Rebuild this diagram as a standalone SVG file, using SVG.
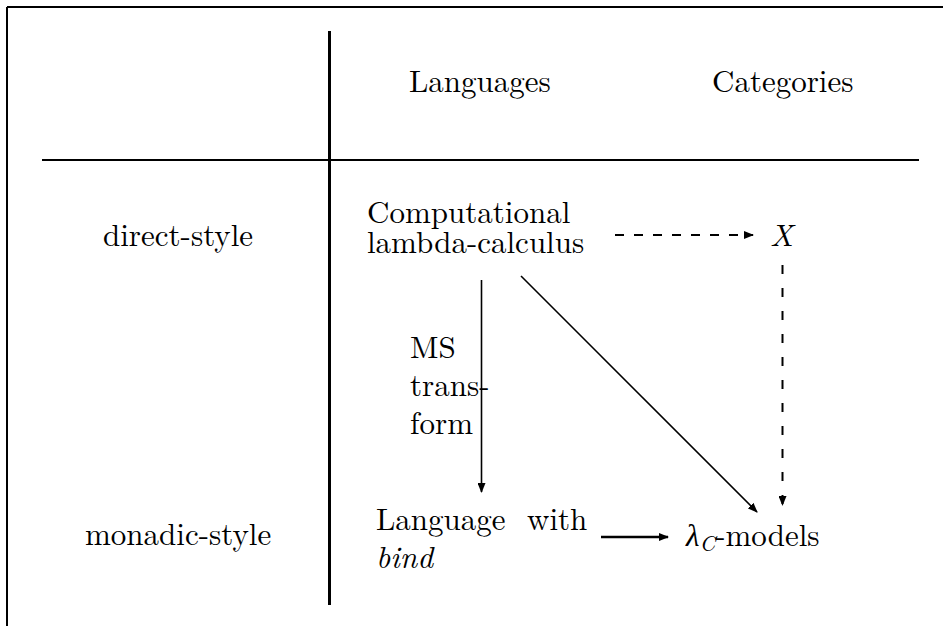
<svg xmlns="http://www.w3.org/2000/svg" width="943" height="626" viewBox="0 0 943 626">
  <style>
    text { font-family: "Latin Modern Roman", "Liberation Serif", serif; font-size: 31px; fill: #000; }
    .it { font-style: italic; }
    .rule { stroke: #000; fill: none; }
    .edge { stroke: #000; stroke-width: 1.6; fill: none; }
    .bold { stroke-width: 2.6; }
    .dash-h { stroke-dasharray: 9 10; stroke-width: 2; }
    .dash-v { stroke-dasharray: 9 14; stroke-width: 2; }
  </style>
  <defs>
    <marker id="head" markerWidth="10" markerHeight="8" refX="9" refY="4" orient="auto" markerUnits="userSpaceOnUse">
      <path d="M0,0 L10,4 L0,8 Z" fill="#000"/>
    </marker>
  </defs>
  <rect width="943" height="626" fill="#fff"/>

  <!-- table frame and rules -->
  <g id="frame">
    <path class="rule" stroke-width="2" d="M7,7 H943 M7,7 V626"/>
    <path class="rule" stroke-width="3" d="M329.5,31 V605"/>
    <path class="rule" stroke-width="2" d="M42,160 H919"/>
  </g>

  <!-- column and row headers -->
  <g id="header-languages"><text x="409" y="92">Languages</text></g>
  <g id="header-categories"><text x="712" y="92">Categories</text></g>
  <g id="row-direct"><text x="103" y="246">direct-style</text></g>
  <g id="row-monadic"><text x="85" y="545">monadic-style</text></g>

  <!-- nodes -->
  <g id="node-lambda">
    <text x="367" y="223">Computational</text>
    <text x="367" y="253">lambda-calculus</text>
  </g>
  <g id="node-x"><text class="it" x="770" y="246">X</text></g>
  <g id="node-bind">
    <text x="376" y="530">Language</text>
    <text x="527" y="530">with</text>
    <text class="it" x="376" y="568">bind</text>
  </g>
  <g id="node-models">
    <text x="686" y="546"><tspan class="it">λ</tspan><tspan class="it" font-size="22" dy="5">C</tspan><tspan dy="-5">-models</tspan></text>
  </g>
  <g id="label-ms">
    <text x="410" y="358">MS</text>
    <text x="410" y="396">trans-</text>
    <text x="410" y="434">form</text>
  </g>

  <!-- connectors -->
  <g id="connectors">
    <path class="edge dash-h" d="M615,235 H753" marker-end="url(#head)"/>
    <path class="edge dash-v" d="M782.5,265 V505" marker-end="url(#head)"/>
    <path class="edge" d="M481.5,280 V492" marker-end="url(#head)"/>
    <path class="edge" d="M521,276 L757,512" marker-end="url(#head)"/>
    <path class="edge bold" d="M601,537 H668" marker-end="url(#head)"/>
  </g>
</svg>
